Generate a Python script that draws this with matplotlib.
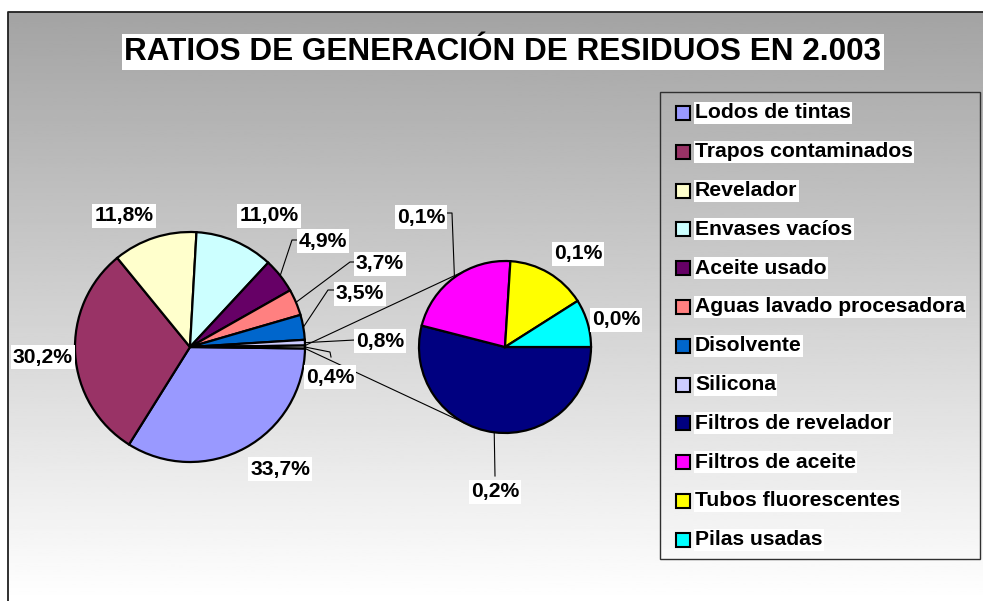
import numpy as np
import matplotlib
matplotlib.use("Agg")
import matplotlib.pyplot as plt
from matplotlib.patches import Rectangle

plt.rcParams['font.family'] = ['Liberation Sans', 'DejaVu Sans']

# datos
title = "RATIOS DE GENERACIÓN DE RESIDUOS EN 2.003"
main_names = ["Lodos de tintas", "Trapos contaminados", "Revelador", "Envases vacíos",
              "Aceite usado", "Aguas lavado procesadora", "Disolvente", "Silicona"]
main_values = [33.7, 30.2, 11.8, 11.0, 4.9, 3.7, 3.5, 0.8]
main_colors = ["#9999FF", "#993366", "#FFFFCC", "#CCFFFF", "#660066", "#FF8080",
               "#0066CC", "#CCCCFF"]
sub_names = ["Filtros de revelador", "Filtros de aceite", "Tubos fluorescentes", "Pilas usadas"]
sub_values = [0.216, 0.088, 0.060, 0.036]
sub_colors = ["#000080", "#FF00FF", "#FFFF00", "#00FFFF"]

W, H = 983, 601


def P(x, y):
    # pixel (y hacia abajo) -> datos
    return x, H - y


fig = plt.figure(figsize=(W / 100, H / 100), dpi=100)
ax = fig.add_axes([0, 0, 1, 1])

# fondo degradado gris -> blanco
grad = np.linspace(0.64, 1.0, 256).reshape(-1, 1)
ax.imshow(grad, cmap="gray", vmin=0, vmax=1, aspect="auto",
          extent=[8, W, 0, H - 12], origin="upper", zorder=0)
ax.plot([8, 8, W], [0, H - 12, H - 12], color="#202020", lw=1.3, zorder=1)

# tarta principal (con "otros" al final)
other = sum(sub_values)
c1 = P(190, 347)
r1 = 115
vals1 = main_values + [other]
cols1 = main_colors + ["white"]
start1 = -other * 3.6 / 2
w1, _ = ax.pie(vals1, colors=cols1, center=c1, radius=r1, startangle=start1,
               counterclock=False, frame=True,
               wedgeprops=dict(edgecolor="black", linewidth=1.6, zorder=3))

# tarta secundaria
c2 = P(505, 347)
r2 = 86
w2, _ = ax.pie(sub_values, colors=sub_colors, center=c2, radius=r2, startangle=0,
               counterclock=False, frame=True,
               wedgeprops=dict(edgecolor="black", linewidth=1.6, zorder=3))


# lineas de union (tangentes)
def tangent(p, c, r, sign):
    dx, dy = p[0] - c[0], p[1] - c[1]
    d = np.hypot(dx, dy)
    base = np.arctan2(dy, dx)
    a = base + sign * np.arccos(r / d)
    return c[0] + r * np.cos(a), c[1] + r * np.sin(a)


ow = w1[-1]
for ang, sign in [(ow.theta2, -1), (ow.theta1, 1)]:
    p = (c1[0] + r1 * np.cos(np.radians(ang)), c1[1] + r1 * np.sin(np.radians(ang)))
    t = tangent(p, c2, r2, sign)
    ax.plot([p[0], t[0]], [p[1], t[1]], color="black", lw=0.8, zorder=2)


def fmt(v):
    return ("%.1f" % v).replace(".", ",") + "%"


lab_kw = dict(fontsize=15.2, fontweight="bold", ha="center", va="center", zorder=6,
              bbox=dict(facecolor="white", edgecolor="none", pad=1.5))

main_pos = [(280, 469), (43, 357), (124, 216), (269, 216), (323, 241), (380, 264),
            (360, 294), (380, 341), (330, 377)]
main_lead = {4: [(292, 240), (297, 240)], 5: [(350, 262), (357, 262)],
             6: [(328, 290), (336, 290)], 7: [(355, 340)], 8: [(330, 352), (331, 357)]}
sub_pos = [(495, 492), (421, 217), (578, 254), (616, 320)]
sub_lead = {0: [(495, 476)], 1: [(452, 213), (447, 213)]}


def edge_point(w, c, r):
    m = np.radians((w.theta1 + w.theta2) / 2)
    return c[0] + r * np.cos(m), c[1] + r * np.sin(m)


for wedges, vals, pos, lead, c, r in [(w1, vals1, main_pos, main_lead, c1, r1),
                                      (w2, sub_values, sub_pos, sub_lead, c2, r2)]:
    for i, v in enumerate(vals):
        ax.text(*P(*pos[i]), fmt(v), **lab_kw)
        if i in lead:
            pts = [edge_point(wedges[i], c, r)] + [P(*q) for q in lead[i]]
            xs, ys = zip(*pts)
            ax.plot(xs, ys, color="black", lw=0.8, zorder=5)

# titulo
ax.text(*P(503, 52), title, fontsize=22.7, fontweight="bold", ha="center", va="center",
        zorder=6, bbox=dict(facecolor="white", edgecolor="none", pad=2))

# leyenda
ax.add_patch(Rectangle(P(660, 559), 320, 467, fill=False, edgecolor="#303030", lw=1.0, zorder=4))
names = main_names + sub_names
colors = main_colors + sub_colors
for i, (n, col) in enumerate(zip(names, colors)):
    y = 113 + i * 38.8
    ax.add_patch(Rectangle(P(676, y + 7), 14, 14, facecolor=col, edgecolor="black", lw=1.5, zorder=5))
    ax.text(*P(695, y), n, fontsize=15.2, fontweight="bold", ha="left", va="center", zorder=6,
            bbox=dict(facecolor="white", edgecolor="none", pad=1.0))

ax.set_xlim(0, W)
ax.set_ylim(0, H)
ax.set_aspect("auto")
ax.axis("off")
fig.savefig("out.png", dpi=100, facecolor="white")
